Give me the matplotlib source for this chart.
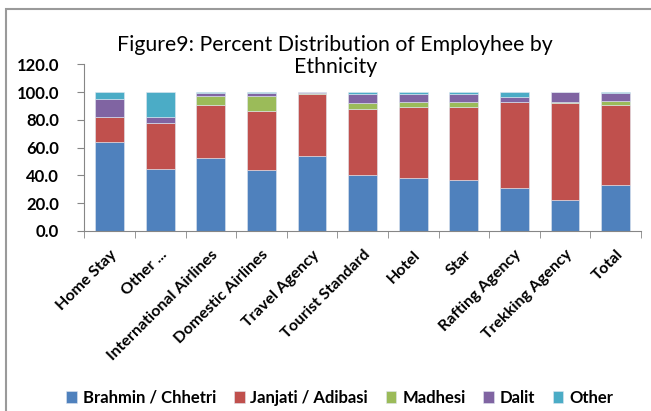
import matplotlib.pyplot as plt
import numpy as np
from matplotlib.patches import Rectangle

categories = ["Home Stay", "Other ...", "International Airlines", "Domestic Airlines",
              "Travel Agency", "Tourist Standard", "Hotel", "Star",
              "Rafting Agency", "Trekking Agency", "Total"]
brahmin = [64.3, 44.3, 52.5, 43.9, 54.0, 40.5, 38.3, 36.6, 31.1, 22.4, 32.8]
janjati = [17.4, 33.3, 37.9, 42.6, 44.3, 47.5, 50.6, 52.3, 61.9, 69.4, 57.6]
madhesi = [0.0, 0.0, 6.5, 10.4, 0.7, 4.1, 3.9, 3.9, 0.0, 1.2, 3.3]
dalit = [13.5, 4.8, 2.1, 2.1, 0.8, 6.3, 5.5, 5.5, 3.1, 6.8, 5.6]
other = [4.8, 17.6, 1.0, 1.0, 0.2, 1.6, 1.7, 1.7, 3.9, 0.2, 0.7]

series = [("Brahmin / Chhetri", brahmin, "#4F81BD"),
          ("Janjati / Adibasi", janjati, "#C0504D"),
          ("Madhesi", madhesi, "#9BBB59"),
          ("Dalit", dalit, "#8064A2"),
          ("Other", other, "#4BACC6")]

plt.rcParams["font.family"] = ["Lato", "DejaVu Sans"]

fig = plt.figure(figsize=(6.51, 4.11), dpi=100)
ax = fig.add_axes([0.1295, 0.438, 0.855, 0.4056])

# outer chart border
fig.patches.append(Rectangle((6 / 651, -0.1), 1.2, 1 - 9 / 411 + 0.1,
                             transform=fig.transFigure, fill=False,
                             edgecolor="#9a9a9a", linewidth=1.5))

x = np.arange(len(categories))
bottom = np.zeros(len(categories))
for name, vals, col in series:
    ax.bar(x, vals, 0.57, bottom=bottom, color=col, label=name,
           edgecolor="#dfe6f0", linewidth=0.4)
    bottom += np.array(vals)

ax.set_xlim(-0.5, len(categories) - 0.5)
ax.set_ylim(0, 120)
ax.set_yticks(np.arange(0, 121, 20))
ax.set_yticklabels([f"{v:.1f}" for v in range(0, 121, 20)],
                   fontsize=12, fontweight="bold")
ax.set_xticks(x)
ax.set_xticklabels(categories, rotation=45, ha="right", rotation_mode="anchor",
                   fontsize=11.5, fontweight="bold")
ax.set_xticks(np.arange(-0.5, len(categories)), minor=True)
ax.tick_params(axis="x", which="major", length=0, pad=12)
ax.tick_params(axis="x", which="minor", length=5, color="#868686")
ax.tick_params(axis="y", length=5, color="#868686", pad=13)

for s in ["top", "right"]:
    ax.spines[s].set_visible(False)
for s in ["left", "bottom"]:
    ax.spines[s].set_color("#868686")

fig.text(0.515, 0.864, "Figure9: Percent Distribution of Employhee by\nEthnicity",
         ha="center", va="center", fontsize=15.3, linespacing=1.1)

fig.legend(loc="center", bbox_to_anchor=(0.522, 0.032), ncol=5, frameon=False,
           prop={"size": 12, "weight": "bold"}, handlelength=0.65,
           handleheight=0.65, handletextpad=0.35, columnspacing=1.05)

fig.savefig("out.png", dpi=100)
